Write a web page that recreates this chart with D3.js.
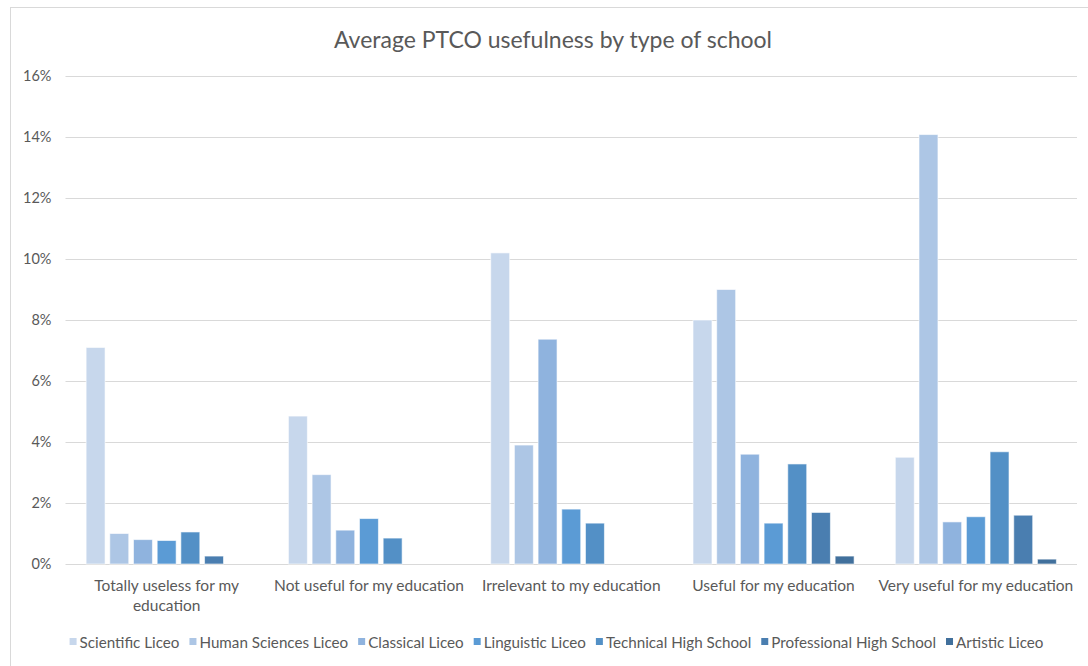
<!DOCTYPE html>
<html>
<head>
<meta charset="utf-8">
<script src="https://cdn.jsdelivr.net/npm/d3@7"></script>
<style>
  html, body { margin: 0; padding: 0; background: #fff; }
  svg { display: block; }
  text { font-family: Lato, "Open Sans", sans-serif; fill: #595959; }
</style>
</head>
<body>
<svg id="chart" width="1088" height="666"></svg>
<script>
// Response categories (x axis groups)
const categories = [
  "Totally useless for my education",
  "Not useful for my education",
  "Irrelevant to my education",
  "Useful for my education",
  "Very useful for my education"
];

// School types (one bar per school inside each group)
const schools = [
  "Scientific Liceo",
  "Human Sciences Liceo",
  "Classical Liceo",
  "Linguistic Liceo",
  "Technical High School",
  "Professional High School",
  "Artistic Liceo"
];

// Share of answers (%) per school, in category order
const scientific    = [7.1, 4.85, 10.2, 8.0, 3.5];
const humanSciences = [1.0, 2.93, 3.9, 9.0, 14.08];
const classical     = [0.8, 1.11, 7.37, 3.6, 1.38];
const linguistic    = [0.77, 1.49, 1.8, 1.34, 1.55];
const technical     = [1.05, 0.85, 1.34, 3.28, 3.68];
const professional  = [0.26, 0, 0, 1.69, 1.6];
const artistic      = [0, 0, 0, 0.26, 0.16];

const seriesValues = [scientific, humanSciences, classical, linguistic, technical, professional, artistic];

const colors = ["#c7d7ec", "#adc6e5", "#8fb3de", "#5b9bd5", "#5390c6", "#4a7eb0", "#41709c"];

const yTicks = [0, 2, 4, 6, 8, 10, 12, 14, 16];

const svg = d3.select("#chart");

// Chart frame
svg.append("rect")
  .attr("x", 10.5).attr("y", 7.5)
  .attr("width", 1100).attr("height", 700)
  .attr("fill", "#fff")
  .attr("stroke", "#d9d9d9").attr("stroke-width", 1);

const plot = { left: 65.5, right: 1077, top: 76, bottom: 564 };

const x0 = d3.scaleBand()
  .domain(categories)
  .range([plot.left, plot.right])
  .paddingInner(0).paddingOuter(0);

const x1 = d3.scaleBand()
  .domain(schools)
  .range([0, x0.bandwidth()])
  .paddingInner(0.2)
  .paddingOuter(0.87);

const y = d3.scaleLinear()
  .domain([0, 16])
  .range([plot.bottom, plot.top]);

// Title
svg.append("text")
  .attr("x", 553).attr("y", 39)
  .attr("text-anchor", "middle")
  .attr("dominant-baseline", "central")
  .style("font-size", "23px")
  .text("Average PTCO usefulness by type of school");

// Gridlines and y labels
const yAxis = d3.axisLeft(y)
  .tickValues(yTicks)
  .tickSize(-(plot.right - plot.left))
  .tickPadding(14)
  .tickFormat(d => d + "%");

const gy = svg.append("g")
  .attr("transform", `translate(${plot.left},0)`)
  .call(yAxis);
gy.select(".domain").remove();
gy.selectAll(".tick line").attr("stroke", "#d9d9d9").attr("stroke-width", 1.2);
gy.selectAll(".tick text")
  .style("font-size", "14.5px")
  .style("font-family", "Lato, sans-serif")
  .attr("fill", "#595959");

// Bars
const groups = svg.append("g")
  .selectAll("g")
  .data(categories)
  .join("g")
  .attr("transform", d => `translate(${x0(d)},0)`);

groups.selectAll("rect")
  .data((c, ci) => schools.map((s, si) => ({ school: s, value: seriesValues[si][ci], si })))
  .join("rect")
  .filter(d => d.value > 0)
  .attr("x", d => x1(d.school))
  .attr("width", x1.bandwidth())
  .attr("y", d => y(d.value))
  .attr("height", d => y(0) - y(d.value))
  .attr("fill", d => colors[d.si])
  .attr("stroke", "rgba(255,255,255,0.6)")
  .attr("stroke-width", 1);

// Category labels with wrapping
const xAxis = d3.axisBottom(x0).tickSize(0).tickPadding(0);
const gx = svg.append("g")
  .attr("transform", `translate(0,${plot.bottom})`)
  .call(xAxis);
gx.select(".domain").remove();
gx.selectAll(".tick text")
  .style("font-size", "15.5px")
  .style("font-family", "Lato, sans-serif")
  .attr("fill", "#595959")
  .attr("y", 0)
  .attr("dy", null)
  .each(function(d) {
    const t = d3.select(this);
    const words = d.split(" ");
    t.text(null);
    let line = [];
    let lineNo = 0;
    let tspan = t.append("tspan").attr("x", 0).attr("y", 21).attr("dominant-baseline", "central");
    for (const w of words) {
      line.push(w);
      tspan.text(line.join(" "));
      if (tspan.node().getComputedTextLength() > x0.bandwidth() - 2 && line.length > 1) {
        line.pop();
        tspan.text(line.join(" "));
        line = [w];
        lineNo++;
        tspan = t.append("tspan").attr("x", 0).attr("y", 21 + lineNo * 20)
          .attr("dominant-baseline", "central").text(w);
      }
    }
  });

// Legend
const legend = svg.append("g").attr("transform", "translate(0,641.5)");
const items = legend.selectAll("g")
  .data(schools)
  .join("g");
items.append("rect")
  .attr("y", -3.5).attr("width", 7).attr("height", 7)
  .attr("fill", (d, i) => colors[i]);
items.append("text")
  .attr("x", 10)
  .attr("dominant-baseline", "central")
  .style("font-size", "15.2px")
  .text(d => d);
// Lay items out in a centred row
let widths = [];
items.each(function() { widths.push(this.getBBox().width); });
const gap = 10;
const total = d3.sum(widths) + gap * (widths.length - 1);
let cx = 556.5 - total / 2;
items.attr("transform", (d, i) => {
  const tx = cx;
  cx += widths[i] + gap;
  return `translate(${tx},0)`;
});
</script>
</body>
</html>
